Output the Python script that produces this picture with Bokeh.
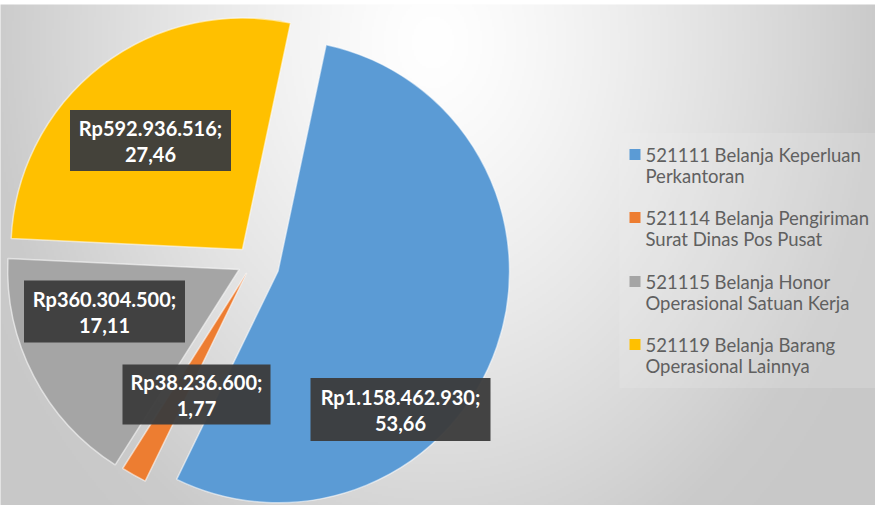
import math
import numpy as np
from bokeh.plotting import figure
from bokeh.models import Range1d
from bokeh.core.properties import value
from bokeh.embed import file_html
from bokeh.resources import INLINE

# ---------------- data ----------------
codes = ["521111", "521114", "521115", "521119"]
legend_line1 = ["521111 Belanja Keperluan", "521114 Belanja Pengiriman",
                "521115 Belanja Honor", "521119 Belanja Barang"]
legend_line2 = ["Perkantoran", "Surat Dinas Pos Pusat",
                "Operasional Satuan Kerja", "Operasional Lainnya"]
amounts = [1158462930, 38236600, 360304500, 592936516]
percents = [53.66, 1.77, 17.11, 27.46]
colors = ["#5B9BD5", "#ED7D31", "#A5A5A5", "#FFC000"]

# ---------------- layout (page pixel coords, y down) ----------------
W, H = 875, 505
PAGE_H = 521
def Y(py):
    return PAGE_H - py

center = (260, 270)
radius = 231.5
first_angle = 12.0           # degrees clockwise from 12 o'clock
explode = [27, 12, 15, 16.5]
label_centers = [(408, 417), (204, 402), (112, 319), (158, 148)]
label_sizes = [(180, 63), (148, 60), (161, 62), (161, 61)]

p = figure(width=W, height=H, x_range=Range1d(8, 8 + W), y_range=Range1d(8, 8 + H),
           output_backend="svg", toolbar_location=None, min_border=0,
           x_axis_type=None, y_axis_type=None)
p.grid.visible = False
p.outline_line_color = None
p.background_fill_color = "white"
p.border_fill_color = "white"

# ---------------- background radial gradient ----------------
step = 2
x0, x1, y0, y1 = 5, 886, 12, 514
nx = (x1 - x0) // step
ny = (y1 - y0) // step
cols = x0 + (np.arange(nx) + 0.5) * step
rows_py = y1 - (np.arange(ny) + 0.5) * step   # row 0 at bottom
XX, YY = np.meshgrid(cols, rows_py)
r = np.sqrt(((XX - 440) / 440.0) ** 2 + ((YY - 50) / 560.0) ** 2)
r = np.clip(r, 0, 1.15)
g = 255 - 52 * np.clip(r, 0, 1) ** 1.3 - 20 * np.clip(r - 1, 0, None)
g = g.astype(np.uint32)
img = (255 << 24) | (g << 16) | (g << 8) | g
p.image_rgba(image=[img.astype(np.uint32)], x=x0, y=Y(y1), dw=x1 - x0, dh=y1 - y0)

# ---------------- pie ----------------
total = float(sum(amounts))
acc = first_angle
for i, v in enumerate(amounts):
    span = v / total * 360.0
    t1, t2 = acc, acc + span
    acc = t2
    mid = math.radians((t1 + t2) / 2)
    cx = center[0] + explode[i] * math.sin(mid)
    cy = Y(center[1]) + explode[i] * math.cos(mid)
    p.wedge(x=[cx], y=[cy], radius=radius,
            start_angle=math.radians(90 - t2), end_angle=math.radians(90 - t1),
            direction="anticlock", fill_color=colors[i],
            line_color="white", line_alpha=0.55, line_width=1.5)

# ---------------- data labels ----------------
for i, v in enumerate(amounts):
    lx, ly = label_centers[i]
    bw, bh = label_sizes[i]
    p.rect(x=[lx], y=[Y(ly)], width=bw, height=bh, width_units="screen",
           height_units="screen", fill_color="#3c3c3c", fill_alpha=0.96,
           line_color=None)
    t1 = "Rp" + f"{v:,}".replace(",", ".") + ";"
    t2 = f"{percents[i]:.2f}".replace(".", ",")
    p.text(x=[lx, lx], y=[Y(ly) + 13, Y(ly) - 14], text=[t1, t2],
           text_align="center", text_baseline="middle",
           text_font=value("Lato"), text_font_style="bold",
           text_font_size="20px", text_color="white")

# ---------------- legend ----------------
p.rect(x=[756], y=[Y(268)], width=258, height=255, fill_color="#f2f2f2",
       fill_alpha=0.2, line_color=None)
leg_y = [162, 225, 289, 352]
for i in range(len(codes)):
    yy = leg_y[i]
    p.rect(x=[642.5], y=[Y(yy)], width=11, height=11, fill_color=colors[i],
           line_color=None)
    p.text(x=[653, 653], y=[Y(yy), Y(yy + 21)], text=[legend_line1[i], legend_line2[i]],
           text_align="left", text_baseline="middle",
           text_font=value("Lato"), text_font_size="18.5px", text_color="#606060")

open("out.html", "w").write(file_html(p, INLINE))
